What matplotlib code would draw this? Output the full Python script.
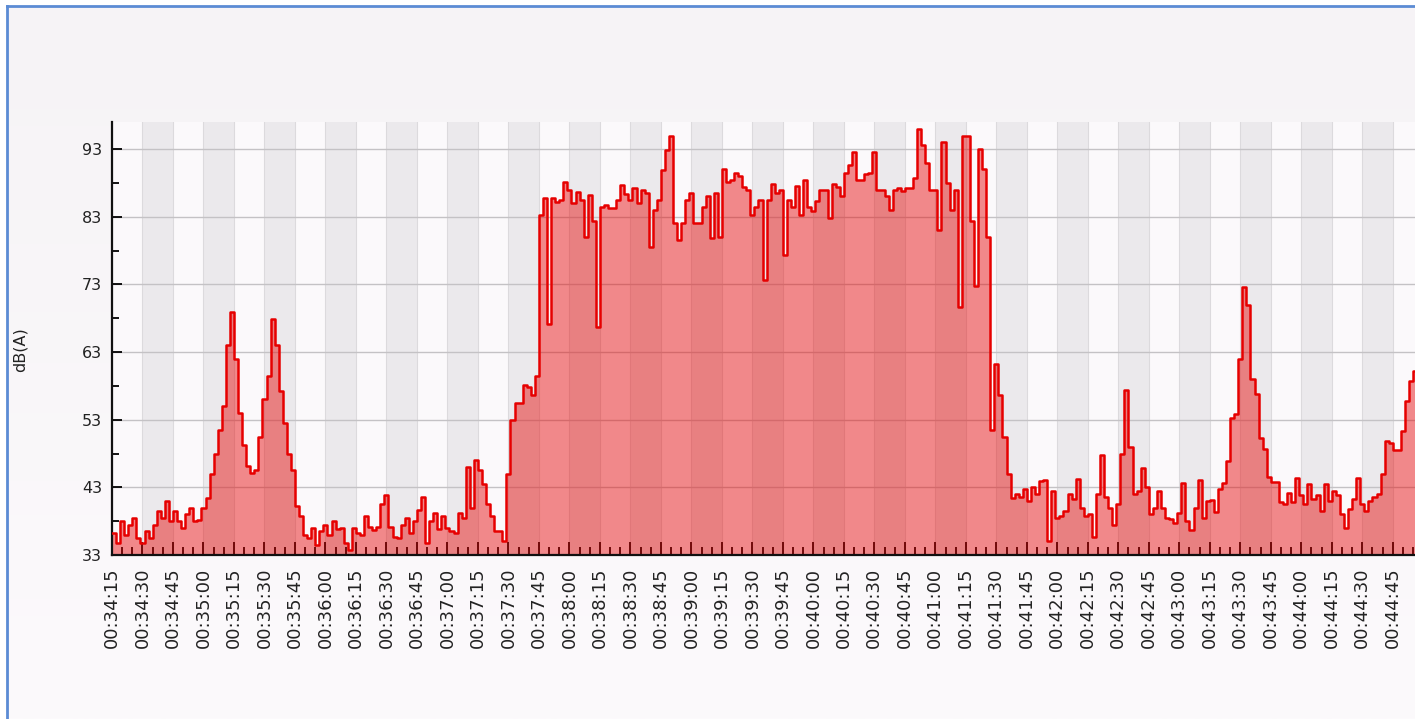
import numpy as np
import matplotlib.pyplot as plt
from matplotlib.ticker import MultipleLocator, FixedLocator, FuncFormatter
from matplotlib.colors import LinearSegmentedColormap
from matplotlib.lines import Line2D

# sound level readings, one every 2 s starting at 00:34:15
start_sec = 34 * 60 + 15
step_sec = 2
levels = [
    36.2, 34.7, 38, 36, 37.5, 38.4, 35.5, 34.8, 36.5, 35.5,
    37.5, 39.5, 38.5, 41, 38, 39.5, 38, 37, 39, 40,
    38, 38.2, 40, 41.4, 45, 48, 51.5, 55, 64, 68.9,
    62, 54, 49.2, 46.2, 45.1, 45.5, 50.5, 56, 59.5, 67.9,
    64, 57.3, 52.5, 48, 45.5, 40.2, 38.8, 36, 35.5, 37,
    34.5, 36.5, 37.5, 36,
    38, 36.9, 37, 34.7, 33.7, 37, 36.2, 36, 38.7, 37.2,
    36.7, 37.2, 40.6, 41.9, 37.2, 35.7, 35.5, 37.5, 38.4, 36.3,
    38, 39.7, 41.6, 34.8, 38, 39.2, 36.8, 38.7, 37, 36.5,
    36.2, 39.2, 38.5, 46, 40, 47, 45.5, 43.5, 40.5, 38.7,
    36.5, 36.5, 35, 45, 53, 55.4, 55.4, 58.1, 57.8, 56.6,
    59.5,
    83.2, 85.7, 67.2, 85.7, 85.2, 85.5, 88.2, 86.9, 85, 86.7,
    85.5, 80, 86.2, 82.3, 66.7, 84.5, 84.8, 84.3, 84.3, 85.5,
    87.7, 86.3, 85.5, 87.3, 85, 87, 86.5, 78.5, 84, 85.5,
    89.9, 92.9, 95, 82, 79.6, 82, 85.5, 86.5, 82, 82,
    84.5, 86, 79.8, 86.5, 80,
    90, 88.2, 88.5, 89.4, 89, 87.4, 87, 83.2, 84.5, 85.5,
    73.6, 85.5, 87.9, 86.5, 87, 77.3, 85.5, 84.5, 87.5, 83.2,
    88.4, 84.5, 83.8, 85.3, 86.9, 86.9, 82.8, 87.9, 87.4, 86,
    89.4, 90.6, 92.6, 88.4, 88.5, 89.3, 89.4, 92.6, 87, 87,
    86, 84, 87, 87.2, 86.8, 87.2, 87.2, 88.7, 96, 93.6,
    91, 87, 87,
    81, 94.1, 88, 84, 87, 69.7, 95, 95, 82.3, 72.7,
    93, 90, 80, 51.5, 61.3, 56.6, 50.5, 45, 41.4, 42,
    41.5, 42.7, 41, 43, 42, 44, 44.1, 35, 42.5, 38.4,
    38.8, 39.5, 42, 41.3, 44.3, 40, 38.7, 39, 35.7, 42,
    47.8, 41.5, 40, 37.5, 40.5, 48, 57.4, 49, 42, 42.5,
    45.8, 43, 39,
    40, 42.4, 40, 38.5, 38.3, 37.8, 39.2, 43.6, 38, 36.7,
    40, 44.1, 38.5, 41, 41.2, 39.4, 42.7, 43.6, 46.9, 53.3,
    53.8, 62, 72.6, 70, 59, 56.8, 50.3, 48.7, 44.5, 43.8,
    43.8, 40.8, 40.5, 42.2, 40.8, 44.4, 41.8, 40.5, 43.5, 41.3,
    41.8, 39.5, 43.5, 41, 42.5, 41.8, 39, 37, 39.8, 41.3,
    44.4, 40.5, 39.5, 41, 41.5, 42, 45, 49.8, 49.5, 48.5,
    48.5, 51.3, 55.8, 58.7, 60.2, 61,
]
seconds = start_sec + step_sec * np.arange(len(levels))

ytick_values = [33, 43, 53, 63, 73, 83, 93]
yminor_values = [38, 48, 58, 68, 78, 88]
y_bottom, y_top = 33, 97
view_sec = 660


def hms(x, pos=None):
    x = int(round(x))
    return "%02d:%02d:%02d" % (x // 3600, (x // 60) % 60, x % 60)


W, H = 1415, 719
fig = plt.figure(figsize=(W / 100, H / 100), dpi=100, facecolor='white')

# panel background, very slight vertical gradient
bg = fig.add_axes([7 / W, 0, 1 - 7 / W, 1 - 6 / H])
bg_cmap = LinearSegmentedColormap.from_list('bg', ['#fcfafc', '#f6f3f6'])
bg.imshow(np.linspace(0, 1, 256).reshape(-1, 1), cmap=bg_cmap, aspect='auto',
          origin='lower', extent=[0, 1, 0, 1])
bg.axis('off')

# blue frame (left and top edges visible)
fig.add_artist(Line2D([7 / W, 7 / W], [0, 1 - 6 / H], transform=fig.transFigure,
                      color='#5b8bd4', lw=2))
fig.add_artist(Line2D([7 / W, 1], [1 - 6 / H, 1 - 6 / H], transform=fig.transFigure,
                      color='#5b8bd4', lw=2))

ax = fig.add_axes([112 / W, 164 / H, view_sec * 2.033 / W, 433 / H])
ax.set_facecolor('#fbf9fb')
ax.set_xlim(start_sec, start_sec + view_sec)
ax.set_ylim(y_bottom, y_top)

# alternating grey columns every 15 s
for s in range(start_sec + 15, start_sec + view_sec, 30):
    ax.axvspan(s, s + 15, color='#ebe9ec', lw=0, zorder=0)

ax.set_axisbelow(True)
ax.grid(axis='y', which='major', color='#c4c2c5', lw=1)
ax.grid(axis='x', which='major', color='#dcdadd', lw=0.8)

ax.fill_between(seconds, levels, y_bottom, step='post', color='#e60000',
                alpha=0.45, lw=0, zorder=2)
ax.step(seconds, levels, where='post', color='#e60000', lw=1.8, zorder=3)

ax.xaxis.set_major_locator(MultipleLocator(15))
ax.xaxis.set_minor_locator(MultipleLocator(5))
ax.xaxis.set_major_formatter(FuncFormatter(hms))
ax.yaxis.set_major_locator(FixedLocator(ytick_values))
ax.yaxis.set_minor_locator(FixedLocator(yminor_values))

ax.tick_params(axis='x', which='major', direction='in', length=9.5, width=1.3,
               labelrotation=90, pad=9, labelsize=13, labelcolor='#222222')
ax.tick_params(axis='x', which='minor', direction='in', length=5.5, width=1.3)
ax.tick_params(axis='y', which='major', direction='in', length=7.5, width=1.3,
               pad=7, labelsize=11.5, labelcolor='#222222')
ax.tick_params(axis='y', which='minor', direction='in', length=5, width=1.3)

for side in ['top', 'right']:
    ax.spines[side].set_visible(False)
for side in ['left', 'bottom']:
    ax.spines[side].set_linewidth(1.6)
    ax.spines[side].set_color('#111111')

fig.text(20 / W, 1 - 350 / H, 'dB(A)', rotation=90, ha='center', va='center',
         fontsize=11.5, color='#222222')

fig.savefig('out.png', dpi=100, facecolor=fig.get_facecolor())
